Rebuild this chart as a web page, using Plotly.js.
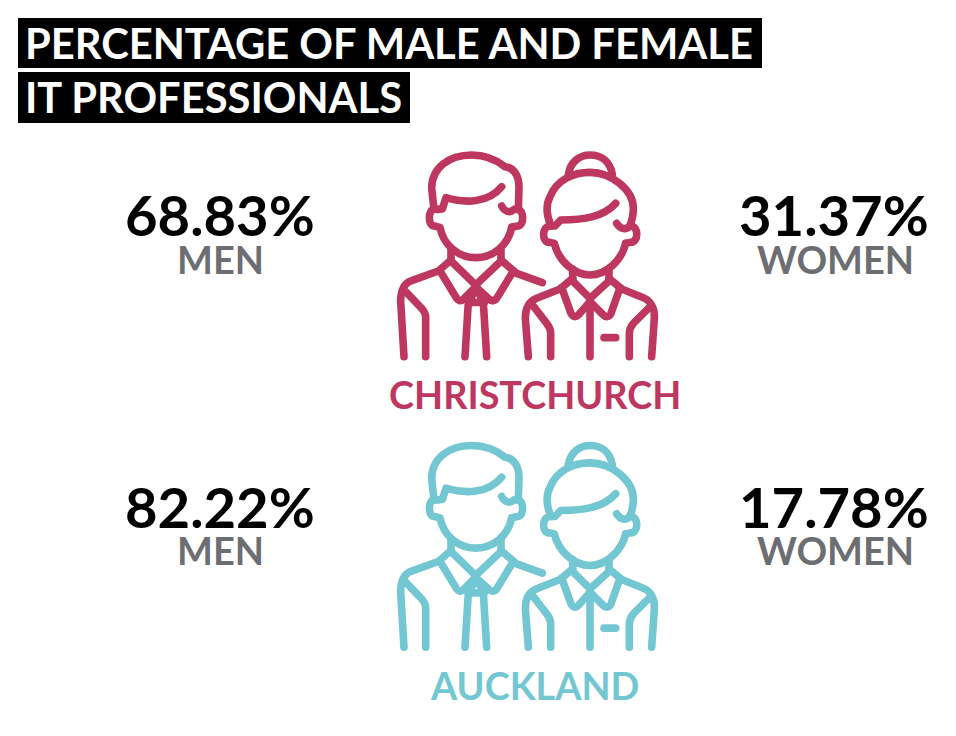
<!DOCTYPE html>
<html><head><meta charset="utf-8">
<script src="https://cdn.plot.ly/plotly-3.0.1.min.js"></script>
<style>html,body{margin:0;padding:0;background:#fff}#c{width:956px;height:736px}</style>
</head><body><div id="c"></div>
<script>
var titleLines = ["PERCENTAGE OF MALE AND FEMALE", "IT PROFESSIONALS"];
var cities = ["CHRISTCHURCH", "AUCKLAND"];
var cityColors = ["#BE3760", "#73C7D3"];
var menPct = [68.83, 82.22];
var womenPct = [31.37, 17.78];
var menLabel = "MEN";
var womenLabel = "WOMEN";

var iconPaths = [
 "M 160 193 L 172 192 L 183 158 C 240 175 310 175 350 125",
 "M 147 193 C 140 130 140 130 140 130 C 140 70 190 30 260 30 C 300 30 335 45 360 65 C 385 68 402 90 402 125 L 400 193",
 "M 350 183 C 358 200 375 205 387 193 L 398 193 C 418 195 418 243 398 243 L 380 247",
 "M 160 193 L 148 193 C 128 193 128 243 148 243 L 165 247 C 175 300 220 338 272 338 C 325 338 370 300 380 247",
 "M 198 312 L 198 348 L 272 420 L 348 348 L 348 312",
 "M 198 345 L 160 378 L 80 407 C 55 415 47 440 47 470 L 57 635",
 "M 348 345 L 395 385 L 472 413",
 "M 165 378 L 212 455 C 218 468 228 470 236 462 L 272 425 L 312 462 C 320 470 332 468 338 455 L 385 378",
 "M 62 440 L 110 490 C 118 500 122 505 122 520 L 122 635",
 "M 272 430 L 252 472 L 298 472 L 272 430",
 "M 250 472 L 240 635", "M 295 472 L 305 635",
 "M 550 90 C 555 50 585 30 615 30 C 650 30 675 50 682 88",
 "M 497 240 C 480 200 485 175 495 155 C 515 105 565 82 615 82 C 680 82 745 135 745 190 C 745 210 742 225 735 240",
 "M 497 243 L 510 243 L 527 225 C 600 225 655 215 692 175",
 "M 695 235 C 705 250 720 258 735 243 C 762 240 762 295 735 292 L 722 295",
 "M 497 243 C 470 240 468 295 495 292 L 508 295 C 520 345 565 390 615 390 C 665 390 710 345 722 295",
 "M 563 372 L 563 408 L 615 460 L 672 408 L 672 372",
 "M 563 400 L 525 432 L 455 460 C 430 470 421 495 421 520 L 430 635",
 "M 672 400 L 710 432 L 775 458 C 800 468 810 495 808 520 L 800 635",
 "M 530 428 L 558 505 C 565 517 572 517 580 510 L 615 470 L 655 510 C 662 517 672 517 678 505 L 705 428",
 "M 615 470 L 615 635", "M 657 578 L 692 578",
 "M 445 483 L 485 535 C 493 545 497 555 497 565 L 497 635",
 "M 790 490 L 745 535 C 737 545 733 555 733 565 L 733 635"
];
var iconOrigins = [[385, 145], [385, 435.5]];
var iconScale = 1 / 3;

function placePath(p, o) {
  var t = p.split(" "), isX = true;
  return t.map(function (s) {
    if (/[A-Z]/.test(s)) { isX = true; return s; }
    var v = +s * iconScale + (isX ? o[0] : o[1]);
    isX = !isX;
    return v.toFixed(2);
  }).join(" ");
}

var shapes = [
  {type:"rect",xref:"x",yref:"y",x0:18,x1:762,y0:18,y1:68,fillcolor:"#000",line:{width:0}},
  {type:"rect",xref:"x",yref:"y",x0:18,x1:410,y0:72,y1:123,fillcolor:"#000",line:{width:0}}
];
iconOrigins.forEach(function (o, i) {
  iconPaths.forEach(function (p) {
    shapes.push({type:"path",xref:"x",yref:"y",path:placePath(p,o),line:{color:cityColors[i],width:7.6},fillcolor:"rgba(0,0,0,0)"});
  });
});

function label(text,x,y,size,color,anchor){
  return {text:text,x:x,y:y,xref:"x",yref:"y",showarrow:false,xanchor:anchor||"center",yanchor:"middle",
    font:{family:"Lato",size:size,color:color,weight:700}};
}
var ann = [
  label(titleLines[0],23,43,41.7,"#fff","left"),
  label(titleLines[1],23,97,41.7,"#fff","left")
];
var rowNum = [214, 506], rowLab = [259, 550], rowCity = [394, 685];
cities.forEach(function (c, i) {
  ann.push(label(menPct[i].toFixed(2)+"%",220,rowNum[i],56.2,"#000"));
  ann.push(label(womenPct[i].toFixed(2)+"%",834,rowNum[i],56.2,"#000"));
  ann.push(label(menLabel,220,rowLab[i],38,"#6D6E71"));
  ann.push(label(womenLabel,835,rowLab[i],38,"#6D6E71"));
  ann.push(label(c,534.5,rowCity[i],37.8,cityColors[i]));
});

var layout = {
  width:956,height:736,margin:{l:0,r:0,t:0,b:0},
  paper_bgcolor:"#fff",plot_bgcolor:"#fff",showlegend:false,
  xaxis:{range:[0,956],visible:false,fixedrange:true},
  yaxis:{range:[736,0],visible:false,fixedrange:true},
  shapes:shapes,annotations:ann
};
Plotly.newPlot("c",[{x:[0],y:[0],mode:"markers",marker:{opacity:0},hoverinfo:"skip"}],layout,{displayModeBar:false,staticPlot:true}).then(function(){
  document.querySelectorAll(".shapelayer path").forEach(function(p){
    p.style.strokeLinecap="round";p.style.strokeLinejoin="round";
  });
});
</script></body></html>
